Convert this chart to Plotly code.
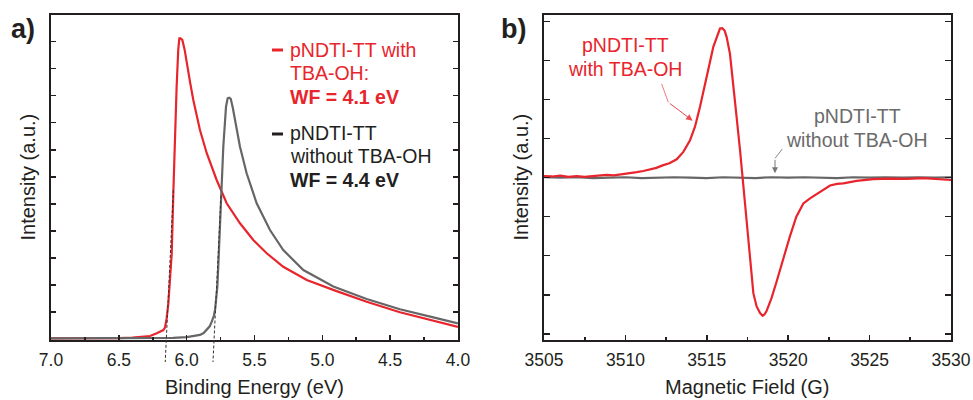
import plotly.graph_objects as go

# ---------------- data: panel a (UPS secondary electron cut-off) ----------------
be_red = [7.0, 6.8, 6.6, 6.5, 6.4, 6.33, 6.27, 6.22, 6.19, 6.172, 6.16, 6.148, 6.135, 6.12,
          6.11, 6.098, 6.086, 6.074, 6.062, 6.054, 6.045, 6.032, 6.015, 6.0, 5.975, 5.951,
          5.902, 5.852, 5.779, 5.705, 5.607, 5.509, 5.41, 5.288, 5.115, 4.9, 4.673, 4.428,
          4.182, 4.0]
int_red = [0.02, 0.02, 0.03, 0.03, 0.05, 0.08, 0.11, 0.21, 0.28, 0.33, 0.42, 0.75, 1.32, 2.3,
           3.17, 5.45, 7.73, 9.33, 10.7, 11.12, 11.12, 11.06, 10.7, 10.2, 9.5, 8.84,
           7.73, 6.87, 5.88, 5.02, 4.28, 3.66, 3.17, 2.67, 2.18, 1.78, 1.38, 0.99,
           0.68, 0.45]

be_gray = [7.0, 6.6, 6.3, 6.2, 6.1, 6.0, 5.95, 5.902, 5.875, 5.852, 5.83, 5.815, 5.8,
           5.791, 5.782, 5.774, 5.766, 5.759, 5.747, 5.73, 5.71, 5.698, 5.686, 5.675, 5.66,
           5.644, 5.607, 5.558, 5.484, 5.386, 5.288, 5.14, 4.968, 4.919, 4.673, 4.428,
           4.182, 4.0]
int_gray = [0.02, 0.02, 0.02, 0.03, 0.04, 0.07, 0.1, 0.15, 0.22, 0.33, 0.47, 0.64, 0.85,
            1.07, 1.45, 1.93, 2.8, 3.78, 5.39, 7.11, 8.59, 8.9, 8.92, 8.88, 8.55,
            8.1, 7.11, 6.13, 5.02, 4.03, 3.29, 2.55, 2.06, 1.94, 1.48, 1.1,
            0.8, 0.58]

# tangent (cut-off) construction lines: [top, bottom] points
tan_red_be = [6.098, 6.158]
tan_red_int = [5.51, -0.85]
tan_gray_be = [5.747, 5.806]
tan_gray_int = [5.3, -0.85]

# ---------------- data: panel b (EPR) ----------------
field_red = [3505.0, 3505.5, 3506.0, 3506.5, 3507.0, 3507.5, 3507.8, 3508.3, 3508.85, 3509.3,
             3509.87, 3510.3, 3510.7, 3511.1, 3511.5, 3511.9, 3512.33, 3512.7, 3513.15,
             3513.56, 3513.97, 3514.27, 3514.58, 3514.99, 3515.4, 3515.81, 3515.95, 3516.1,
             3516.22, 3516.42, 3516.63, 3516.83, 3517.04, 3517.2, 3517.45, 3517.65, 3517.86,
             3518.06, 3518.27, 3518.43, 3518.55, 3518.67, 3518.98, 3519.29, 3519.7, 3520.1,
             3520.5, 3520.93, 3521.34, 3521.95, 3522.57, 3523.0, 3523.39, 3524.2, 3525.23,
             3526.25, 3527.3, 3528.3, 3529.2, 3530.0]
epr_red = [0.04, 0.03, 0.05, 0.02, 0.04, 0.02, 0.03, 0.05, 0.07, 0.06,
           0.085, 0.12, 0.14, 0.17, 0.21, 0.25, 0.32, 0.37, 0.47,
           0.66, 0.96, 1.30, 1.81, 2.58, 3.35, 3.82, 3.83, 3.76,
           3.60, 3.18, 2.41, 1.56, 0.71, 0.0, -1.25, -2.19, -2.96,
           -3.30, -3.47, -3.54, -3.50, -3.42, -3.08, -2.66, -2.06, -1.51,
           -1.0, -0.66, -0.53, -0.36, -0.20, -0.16, -0.145, -0.085, -0.04,
           -0.026, -0.03, -0.01, -0.04, -0.06]

field_gray = [3505, 3506, 3507, 3508, 3509, 3510, 3511, 3512, 3513, 3514, 3515, 3516, 3517,
              3518, 3519, 3520, 3521, 3522, 3523, 3524, 3525, 3526, 3527, 3528, 3529, 3530]
epr_gray = [0.01, 0.0, 0.01, -0.01, 0.0, 0.01, -0.01, 0.0, 0.01, 0.0, -0.01, 0.01, 0.0,
            -0.01, 0.01, 0.0, 0.01, 0.0, -0.01, 0.01, 0.0, 0.01, 0.0, 0.01, 0.0, 0.01]

RED = "#e8252c"
GRAY = "#666666"
DARK = "#231f20"
FONT = "Liberation Sans, Arial, sans-serif"

W, H = 973, 400
OFF = 0  # page body margin removed via post_script


def px(x):
    return (x - OFF) / W


def py(y):
    return 1 - (y - OFF) / H


fig = go.Figure()
fig.add_trace(go.Scatter(x=be_red, y=int_red, mode="lines", line=dict(color=RED, width=2.2),
                         xaxis="x", yaxis="y", showlegend=False))
fig.add_trace(go.Scatter(x=be_gray, y=int_gray, mode="lines", line=dict(color=GRAY, width=2.2),
                         xaxis="x", yaxis="y", showlegend=False))
fig.add_trace(go.Scatter(x=field_gray, y=epr_gray, mode="lines", line=dict(color=GRAY, width=2.2),
                         xaxis="x2", yaxis="y2", showlegend=False))
fig.add_trace(go.Scatter(x=field_red, y=epr_red, mode="lines", line=dict(color=RED, width=2.2),
                         xaxis="x2", yaxis="y2", showlegend=False))

YA = [-0.037, 12.0]
YB = [-4.16, 4.18]


def ydom(v, rng):
    return (v - rng[0]) / (rng[1] - rng[0])


shapes = []
for xs, ys in [(tan_red_be, tan_red_int), (tan_gray_be, tan_gray_int)]:
    shapes.append(dict(type="line", xref="x", yref="y domain",
                       x0=xs[0], y0=ydom(ys[0], YA), x1=xs[1], y1=ydom(ys[1], YA),
                       line=dict(color="#333333", width=1, dash="3px,2px")))
# legend glyphs (panel a)
shapes.append(dict(type="line", xref="paper", yref="paper", x0=px(272), x1=px(283),
                   y0=py(50), y1=py(50), line=dict(color=RED, width=3)))
shapes.append(dict(type="line", xref="paper", yref="paper", x0=px(272), x1=px(283),
                   y0=py(134), y1=py(134), line=dict(color=DARK, width=3)))
# leader line segments (panel b)
shapes.append(dict(type="line", xref="paper", yref="paper", x0=px(661.7), y0=py(84),
                   x1=px(668.3), y1=py(102.3), line=dict(color="#f07a7e", width=1)))
shapes.append(dict(type="line", xref="paper", yref="paper", x0=px(782.3), y0=py(149),
                   x1=px(775), y1=py(158.3), line=dict(color="#888888", width=1)))

ann = []


def txt(x, y, s, size=19.5, color=DARK, xanchor="center", angle=0, bold=False):
    ann.append(dict(x=px(x), y=py(y), xref="paper", yref="paper", text=(f"<b>{s}</b>" if bold else s),
                    showarrow=False, xanchor=xanchor, yanchor="middle", textangle=angle,
                    font=dict(family=FONT, size=size, color=color)))


# panel labels
txt(22.5, 29, "a)", size=27, bold=True)
txt(513, 29, "b)", size=27, bold=True)
# axis titles
txt(254.5, 387, "Binding Energy (eV)", size=20)
txt(747.5, 387, "Magnetic Field (G)", size=20)
txt(27, 177.5, "Intensity (a.u.)", size=20, angle=-90)
txt(520, 177.5, "Intensity (a.u.)", size=20, angle=-90)
# panel a legend text
txt(288, 50, "pNDTI-TT with", color=RED, xanchor="left")
txt(288, 73, "TBA-OH:", color=RED, xanchor="left")
txt(288, 97, "WF = 4.1 eV", color=RED, xanchor="left", bold=True)
txt(288, 133, "pNDTI-TT", color=DARK, xanchor="left")
txt(288, 156, "without TBA-OH", color=DARK, xanchor="left")
txt(288, 180, "WF = 4.4 eV", color=DARK, xanchor="left", bold=True)
# panel b labels
txt(625, 45, "pNDTI-TT", color=RED)
txt(625, 69, "with TBA-OH", color=RED)
txt(857, 116, "pNDTI-TT", color="#6b6b6b")
txt(857, 140, "without TBA-OH", color="#6b6b6b")

# arrows (panel b)
ann.append(dict(x=3514.13, y=1.46, xref="x2", yref="y2", ax=-24.4, ay=-18.4, text="",
                showarrow=True, arrowhead=2, arrowsize=1.3, arrowwidth=1, arrowcolor="#ee4a50",
                standoff=0))
ann.append(dict(x=3519.19, y=0.11, xref="x2", yref="y2", ax=0, ay=-15, text="",
                showarrow=True, arrowhead=2, arrowsize=1.2, arrowwidth=1, arrowcolor="#777777",
                standoff=0))

common_x = dict(showline=True, linecolor=DARK, linewidth=2, mirror=True, ticks="inside",
                ticklen=5, tickwidth=1.6, tickcolor=DARK, showgrid=False, zeroline=False,
                tickfont=dict(family=FONT, size=17.5, color=DARK), ticklabelstandoff=3,
                automargin=False)
common_y = dict(showline=True, linecolor=DARK, linewidth=2, mirror="ticks", ticks="inside",
                ticklen=5, tickwidth=1.6, tickcolor=DARK, showgrid=False, zeroline=False,
                showticklabels=False, automargin=False)

ydomain = [1 - (340 - OFF) / H, 1 - (14.5 - OFF) / H]

fig.update_layout(
    template="none",
    width=W, height=H, margin=dict(l=0, r=0, t=0, b=0, pad=0, autoexpand=False),
    paper_bgcolor="white", plot_bgcolor="white",
    xaxis=dict(common_x, domain=[px(51), px(458)], range=[7.0, 4.0],
               tickvals=[7.0, 6.5, 6.0, 5.5, 5.0, 4.5, 4.0],
               ticktext=["7.0", "6.5", "6.0", "5.5", "5.0", "4.5", "4.0"], anchor="y",
               minor=dict(tickvals=[6.75, 6.25, 5.75, 5.25, 4.75, 4.25], ticklen=3, tickcolor=DARK,
                          tickwidth=1.6, ticks="inside")),
    yaxis=dict(common_y, domain=ydomain, range=YA, dtick=1, tick0=0, anchor="x"),
    xaxis2=dict(common_x, domain=[px(544), px(951)], range=[3505, 3530], dtick=5, tick0=3505,
                anchor="y2",
                minor=dict(dtick=2.5, ticklen=3, tickcolor=DARK, tickwidth=1.6, ticks="inside")),
    yaxis2=dict(common_y, domain=ydomain, range=YB, dtick=1, tick0=0, anchor="x2", ticklen=6),
    shapes=shapes, annotations=ann,
    font=dict(family=FONT, color=DARK),
    hovermode=False,
)

fig.write_html("out.html", config={"displayModeBar": False, "staticPlot": True},
               post_script="document.body.style.margin='0';document.body.style.overflow='hidden';")
